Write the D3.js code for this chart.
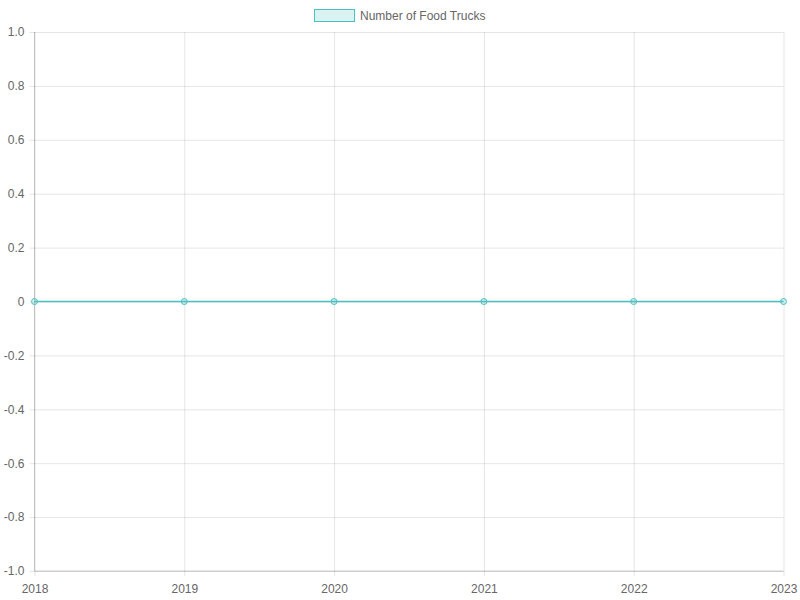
<!DOCTYPE html>
<html>
<head>
<meta charset="utf-8">
<script src="https://cdn.jsdelivr.net/npm/d3@7"></script>
<style>
  body { margin: 0; background: #fff; }
  text { font-family: "Liberation Sans", Arial, Helvetica, sans-serif; }
</style>
</head>
<body>
<div id="chart"></div>
<script>
// data
const years = ["2018", "2019", "2020", "2021", "2022", "2023"];
const foodTrucks = [0, 0, 0, 0, 0, 0];
const yTicks = [-1.0, -0.8, -0.6, -0.4, -0.2, 0, 0.2, 0.4, 0.6, 0.8, 1.0];
const seriesName = "Number of Food Trucks";

const W = 800, H = 600;
const margin = {top: 32, right: 16.5, bottom: 29, left: 34.5};
const width = W - margin.left - margin.right,
      height = H - margin.top - margin.bottom;
const teal = "rgb(75,192,192)", tealFill = "rgba(75,192,192,0.2)";
const grid = "rgba(0,0,0,0.1)";

const svg = d3.select("#chart").append("svg")
  .attr("width", W).attr("height", H);
const g = svg.append("g")
  .attr("transform", "translate(" + margin.left + "," + margin.top + ")");

const x = d3.scalePoint().domain(years).range([0, width]);
const y = d3.scaleLinear().domain([-1, 1]).range([height, 0]);

// vertical grid
g.append("g")
  .call(d3.axisBottom(x).tickSize(height + 5).tickFormat(""))
  .call(s => s.select(".domain").remove())
  .call(s => s.selectAll("line").attr("stroke", grid).attr("y1", 0));

// horizontal grid
g.append("g")
  .call(d3.axisLeft(y).tickValues(yTicks).tickSize(-(width)).tickFormat(""))
  .call(s => s.select(".domain").remove())
  .call(s => s.selectAll("line").attr("stroke", grid).attr("x1", -5));

// axis borders
g.append("line").attr("x1", 0).attr("x2", 0).attr("y1", 0).attr("y2", height)
  .attr("stroke", "rgba(0,0,0,0.2)");
g.append("line").attr("x1", 0).attr("x2", width).attr("y1", height).attr("y2", height)
  .attr("stroke", "rgba(0,0,0,0.2)");

// y tick labels (plain hyphen for negatives, like the reference)
g.append("g")
  .call(d3.axisLeft(y).tickValues(yTicks).tickSize(0).tickPadding(10)
    .tickFormat(d => d === 0 ? "0" : d.toFixed(1)))
  .call(s => s.select(".domain").remove())
  .call(s => s.selectAll("text").attr("fill", "#666").style("font-size", "12px")
    .style("font-family", "'Liberation Sans', Arial, sans-serif"));

// x tick labels
g.append("g")
  .attr("transform", "translate(0," + height + ")")
  .call(d3.axisBottom(x).tickSize(0).tickPadding(13))
  .call(s => s.select(".domain").remove())
  .call(s => s.selectAll("text").attr("fill", "#666").style("font-size", "12px")
    .style("font-family", "'Liberation Sans', Arial, sans-serif"));

// line
const line = d3.line().x((d, i) => x(years[i])).y(d => y(d));
g.append("path").datum(foodTrucks)
  .attr("d", line).attr("fill", "none")
  .attr("stroke", teal).attr("stroke-width", 1.5);

// points
g.selectAll("circle.pt").data(foodTrucks).enter().append("circle")
  .attr("class", "pt")
  .attr("cx", (d, i) => x(years[i]))
  .attr("cy", d => y(d))
  .attr("r", 3)
  .attr("fill", tealFill)
  .attr("stroke", teal).attr("stroke-width", 1);

// legend
const legend = svg.append("g").attr("transform", "translate(314,9)");
legend.append("rect").attr("x", 0.5).attr("y", 0.5).attr("width", 40).attr("height", 12)
  .attr("fill", tealFill).attr("stroke", teal).attr("stroke-width", 1);
legend.append("text").attr("x", 46).attr("y", 11)
  .attr("fill", "#666").style("font-size", "12px")
  .text(seriesName);
</script>
</body>
</html>
